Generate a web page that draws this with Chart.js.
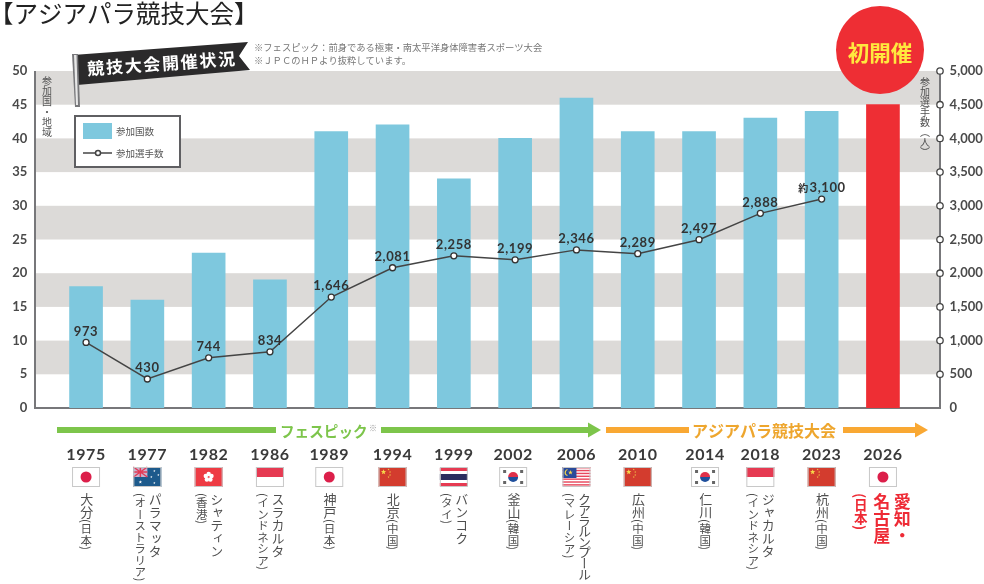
<!DOCTYPE html>
<html lang="ja">
<head>
<meta charset="utf-8">
<title>アジアパラ競技大会</title>
<script src="https://cdn.jsdelivr.net/npm/chart.js@4"></script>
<style>
  html, body { margin: 0; padding: 0; background: #fff; overflow: hidden; }
  #wrap { position: relative; width: 984px; height: 584px; overflow: hidden; }
  canvas { position: absolute; left: 0; top: 0; }
  .place {
    position: absolute;
    top: 493px;
    transform: translateX(-50%);
    writing-mode: vertical-rl;
    font-family: "Noto Sans CJK JP", sans-serif;
    font-size: 13px;
    line-height: 14.5px;
    color: #4f4f4f;
    white-space: nowrap;
  }
  .place small { font-size: 11.5px; letter-spacing: 0; }
  .place.host { color: #ee2a35; font-weight: 700; font-size: 17px; line-height: 20.5px; margin-left: -2px; }
  .place.host small { font-size: 13.5px; }
</style>
</head>
<body>
<div id="wrap"><canvas id="chart" width="984" height="584"></canvas></div>
<script>
// Values
const years = ['1975', '1977', '1982', '1986', '1989', '1994', '1999', '2002', '2006', '2010', '2014', '2018', '2023', '2026'];
const nations = [18, 16, 23, 19, 41, 42, 34, 40, 46, 41, 41, 43, 44, 45];
const athletes = [973, 430, 744, 834, 1646, 2081, 2258, 2199, 2346, 2289, 2497, 2888, 3100, null];
const cities = ['大分', 'パラマッタ', 'シャティン', 'スラカルタ', '神戸', '北京', 'バンコク', '釜山', 'クアラルンプール', '広州', '仁川', 'ジャカルタ', '杭州', '愛知・|名古屋'];
const countries = ['日本', 'オーストラリア', '香港', 'インドネシア', '日本', '中国', 'タイ', '韓国', 'マレーシア', '中国', '韓国', 'インドネシア', '中国', '日本'];
const flags = ['jp', 'au', 'hk', 'id', 'jp', 'cn', 'th', 'kr', 'my', 'cn', 'kr', 'id', 'cn', 'jp'];

const seriesNames = ['参加国数', '参加選手数'];
const leftTitle = '参加国・地域';
const rightTitle = '参加選手数（人）';
const notes = ['※フェスピック：前身である極東・南太平洋身体障害者スポーツ大会', '※ＪＰＣのＨＰより抜粋しています。'];

// the year / flag / place columns do not sit exactly under the bars
const columnNudge = { 4: -2, 7: -2, 10: 6 };

const BLUE = '#7ec8de';
const RED = '#ee2e34';
const BAND = '#dcdad8';
const AXIS = '#77777a';
const LATIN = 'Lato, sans-serif';
const CJK = '"Noto Sans CJK JP", sans-serif';

function columnX(chart, i) {
  return chart.scales.x.getPixelForValue(i) + (columnNudge[i] || 0);
}

function polygon(ctx, points) {
  ctx.beginPath();
  points.forEach(([x, y], i) => (i ? ctx.lineTo(x, y) : ctx.moveTo(x, y)));
  ctx.closePath();
  ctx.fill();
}

function star(ctx, x, y, r, color) {
  ctx.fillStyle = color;
  const pts = [];
  for (let i = 0; i < 10; i++) {
    const a = -Math.PI / 2 + (i * Math.PI) / 5;
    const q = i % 2 ? r * 0.42 : r;
    pts.push([x + Math.cos(a) * q, y + Math.sin(a) * q]);
  }
  polygon(ctx, pts);
}

// Small flag pictures, 28x20 around the given centre
function drawFlag(ctx, code, cx, cy) {
  const x = cx - 14;
  const y = cy - 10;
  const w = 28;
  const h = 20;
  ctx.save();
  ctx.fillStyle = '#fff';
  ctx.fillRect(x, y, w, h);
  if (code === 'jp') {
    ctx.fillStyle = '#dc1f4a';
    ctx.beginPath();
    ctx.arc(cx, cy, 5.5, 0, Math.PI * 2);
    ctx.fill();
  } else if (code === 'au') {
    ctx.fillStyle = '#1d5a8c';
    ctx.fillRect(x, y, w, h);
    ctx.fillStyle = '#c9b3cf';
    ctx.fillRect(x, y, 14, 10);
    ctx.strokeStyle = '#e23b57';
    ctx.lineWidth = 1.5;
    ctx.beginPath();
    ctx.moveTo(x, y);
    ctx.lineTo(x + 14, y + 10);
    ctx.moveTo(x + 14, y);
    ctx.lineTo(x, y + 10);
    ctx.moveTo(x + 7, y);
    ctx.lineTo(x + 7, y + 10);
    ctx.moveTo(x, y + 5);
    ctx.lineTo(x + 14, y + 5);
    ctx.stroke();
    star(ctx, x + 7, y + 15, 1.8, '#fff');
    star(ctx, x + 21, y + 4, 1.2, '#fff');
    star(ctx, x + 25, y + 8, 1.2, '#fff');
    star(ctx, x + 18, y + 10, 1.2, '#fff');
    star(ctx, x + 21, y + 16, 1.2, '#fff');
  } else if (code === 'hk') {
    ctx.fillStyle = '#ee3b44';
    ctx.fillRect(x, y, w, h);
    ctx.fillStyle = '#fff';
    for (let i = 0; i < 5; i++) {
      const a = -Math.PI / 2 + (i * 2 * Math.PI) / 5;
      ctx.beginPath();
      ctx.arc(cx + Math.cos(a) * 3, cy + Math.sin(a) * 3, 2.2, 0, Math.PI * 2);
      ctx.fill();
    }
  } else if (code === 'id') {
    ctx.fillStyle = '#e63a52';
    ctx.fillRect(x, y, w, h / 2);
  } else if (code === 'cn') {
    ctx.fillStyle = '#d33c2e';
    ctx.fillRect(x, y, w, h);
    star(ctx, x + 5, y + 5, 2.8, '#f6d84a');
    star(ctx, x + 10, y + 2.5, 1, '#f6d84a');
    star(ctx, x + 11.5, y + 5, 1, '#f6d84a');
    star(ctx, x + 11.5, y + 8, 1, '#f6d84a');
    star(ctx, x + 10, y + 10, 1, '#f6d84a');
  } else if (code === 'th') {
    ctx.fillStyle = '#e63a52';
    ctx.fillRect(x, y + 1, w, 3);
    ctx.fillRect(x, y + 16, w, 3);
    ctx.fillStyle = '#2b2d5e';
    ctx.fillRect(x, y + 7, w, 6);
  } else if (code === 'kr') {
    ctx.fillStyle = '#e0304a';
    ctx.beginPath();
    ctx.arc(cx, cy, 5, Math.PI, 0);
    ctx.fill();
    ctx.fillStyle = '#1f4f9c';
    ctx.beginPath();
    ctx.arc(cx, cy, 5, 0, Math.PI);
    ctx.fill();
    ctx.fillStyle = '#666';
    [[-10, -7], [7, -7], [-10, 4], [7, 4]].forEach(([dx, dy]) => ctx.fillRect(cx + dx, cy + dy, 3, 3));
  } else if (code === 'my') {
    ctx.fillStyle = '#e8485c';
    for (let i = 0; i < 7; i++) ctx.fillRect(x, y + i * 2.86, w, 1.43);
    ctx.fillStyle = '#2a4a9a';
    ctx.fillRect(x, y, 14, 11);
    star(ctx, x + 8, y + 5.5, 2.5, '#f6d84a');
    ctx.strokeStyle = '#f6d84a';
    ctx.lineWidth = 1.2;
    ctx.beginPath();
    ctx.arc(x + 6, y + 5.5, 3.2, Math.PI * 0.6, Math.PI * 1.4);
    ctx.stroke();
  }
  ctx.strokeStyle = '#c8c8c8';
  ctx.lineWidth = 1;
  ctx.strokeRect(x + 0.5, y + 0.5, w - 1, h - 1);
  ctx.restore();
}

function arrowLine(ctx, x1, x2, y, color) {
  ctx.fillStyle = color;
  ctx.fillRect(x1, y - 3, x2 - x1, 6);
}

function arrowHead(ctx, tip, y, color) {
  ctx.fillStyle = color;
  polygon(ctx, [[tip - 13, y - 7.5], [tip, y], [tip - 13, y + 7.5]]);
}

// Alternating bands and the frame live outside the bar area, so they are drawn by hand
const backdrop = {
  id: 'backdrop',
  beforeDatasetsDraw(chart) {
    const { ctx, scales: { y } } = chart;
    const left = 35;
    const right = 940;
    ctx.save();
    ctx.fillStyle = BAND;
    for (let v = 5; v < 50; v += 10) {
      const top = y.getPixelForValue(v + 5);
      ctx.fillRect(left, top, right - left, y.getPixelForValue(v) - top);
    }
    ctx.strokeStyle = AXIS;
    ctx.lineWidth = 2;
    ctx.beginPath();
    ctx.moveTo(left, y.top);
    ctx.lineTo(left, y.bottom);
    ctx.lineTo(right, y.bottom);
    ctx.lineTo(right, y.top);
    ctx.stroke();
    ctx.restore();
  },
  afterDatasetsDraw(chart) {
    const { ctx, scales: { y1 } } = chart;
    ctx.save();
    ctx.strokeStyle = '#444';
    ctx.fillStyle = '#fff';
    ctx.lineWidth = 1.3;
    y1.ticks.forEach((t) => {
      if (!t.value) return;
      ctx.beginPath();
      ctx.arc(940, y1.getPixelForValue(t.value), 3.2, 0, Math.PI * 2);
      ctx.fill();
      ctx.stroke();
    });
    ctx.restore();
  },
};

// Numbers above the line points
const pointLabels = {
  id: 'pointLabels',
  afterDatasetsDraw(chart) {
    const { ctx } = chart;
    const meta = chart.getDatasetMeta(1);
    ctx.save();
    ctx.fillStyle = '#333';
    ctx.textBaseline = 'middle';
    ctx.textAlign = 'center';
    ctx.font = `700 13px ${LATIN}`;
    ctx.letterSpacing = '0.6px';
    athletes.forEach((v, i) => {
      if (v === null) return;
      const { x, y } = meta.data[i];
      ctx.fillText(v.toLocaleString('en-US'), i === 12 ? x + 6 : x, y - 11);
      if (i === 12) {
        ctx.font = `700 10px ${CJK}`;
        ctx.fillText('約', x - 18, y - 11);
      }
    });
    ctx.restore();
  },
};

function verticalText(ctx, text, x, top, step) {
  [...text].forEach((ch, i) => ctx.fillText(ch, x, top + i * step));
}

// Title, banner, legend box, axis titles, circle, era arrows, years and flags
const decorations = {
  id: 'decorations',
  afterDraw(chart) {
    const { ctx } = chart;
    ctx.save();

    ctx.fillStyle = '#222';
    ctx.textBaseline = 'alphabetic';
    ctx.font = `400 24.5px ${CJK}`;
    ctx.fillText('【アジアパラ競技大会】', -11, 23);

    // banner
    ctx.fillStyle = '#2b2a2b';
    polygon(ctx, [[73, 55], [248, 42], [239, 56], [250, 70], [77, 85]]);
    ctx.fillStyle = '#77777a';
    polygon(ctx, [[72, 54], [78, 54], [80, 107], [75, 107]]);
    ctx.fillStyle = '#e8e8e8';
    polygon(ctx, [[74, 55], [76.5, 55], [78, 105], [76, 105]]);
    ctx.save();
    ctx.translate(162, 63.5);
    ctx.rotate(-0.07);
    ctx.fillStyle = '#fff';
    ctx.font = `700 17px ${CJK}`;
    ctx.letterSpacing = '1.7px';
    ctx.textAlign = 'center';
    ctx.textBaseline = 'middle';
    ctx.fillText('競技大会開催状況', 0, 0);
    ctx.restore();

    ctx.fillStyle = '#777';
    ctx.font = `400 9.3px ${CJK}`;
    ctx.textBaseline = 'middle';
    notes.forEach((n, i) => ctx.fillText(n, 254, 47 + i * 13));

    // legend
    ctx.fillStyle = '#fff';
    ctx.strokeStyle = '#5f5f62';
    ctx.lineWidth = 2;
    ctx.fillRect(75, 116, 105, 51);
    ctx.strokeRect(75, 116, 105, 51);
    ctx.fillStyle = BLUE;
    ctx.fillRect(83, 123, 29, 16);
    ctx.strokeStyle = '#444';
    ctx.lineWidth = 1.5;
    ctx.beginPath();
    ctx.moveTo(83, 153);
    ctx.lineTo(112, 153);
    ctx.stroke();
    ctx.fillStyle = '#fff';
    ctx.beginPath();
    ctx.arc(98, 153, 2.5, 0, Math.PI * 2);
    ctx.fill();
    ctx.stroke();
    ctx.fillStyle = '#555';
    ctx.font = `400 9.5px ${CJK}`;
    ctx.fillText(seriesNames[0], 116, 131);
    ctx.fillText(seriesNames[1], 116, 153);

    // axis titles
    ctx.textAlign = 'center';
    ctx.font = `400 10px ${CJK}`;
    verticalText(ctx, leftTitle, 47, 81, 10.3);

    ctx.restore();

    // first-edition circle
    ctx.save();
    ctx.fillStyle = RED;
    ctx.beginPath();
    ctx.arc(880, 50, 44, 0, Math.PI * 2);
    ctx.fill();
    ctx.fillStyle = '#ffe83e';
    ctx.font = `700 21.5px ${CJK}`;
    ctx.textAlign = 'center';
    ctx.textBaseline = 'middle';
    ctx.fillText('初開催', 880, 53);
    ctx.restore();

    // era arrows
    const arrowY = 430;
    ctx.save();
    arrowLine(ctx, 57, 276, arrowY, '#7dc54b');
    arrowLine(ctx, 381, 590, arrowY, '#7dc54b');
    arrowHead(ctx, 601, arrowY, '#7dc54b');
    arrowLine(ctx, 606, 689, arrowY, '#f9a833');
    arrowLine(ctx, 843, 916, arrowY, '#f9a833');
    arrowHead(ctx, 928, arrowY, '#f9a833');
    ctx.textBaseline = 'middle';
    ctx.font = `700 14.6px ${CJK}`;
    ctx.fillStyle = '#7dc54b';
    ctx.fillText('フェスピック', 280, arrowY + 1);
    ctx.fillStyle = '#999';
    ctx.font = `400 8px ${CJK}`;
    ctx.fillText('※', 369, arrowY - 2);
    ctx.font = `700 16px ${CJK}`;
    ctx.fillStyle = '#eea62e';
    ctx.fillText('アジアパラ競技大会', 692, arrowY + 1);
    ctx.restore();

    // years and flags below the axis
    ctx.save();
    ctx.fillStyle = '#3a3a3a';
    ctx.font = `700 16px ${LATIN}`;
    ctx.letterSpacing = '0.6px';
    ctx.textAlign = 'center';
    ctx.textBaseline = 'middle';
    years.forEach((year, i) => {
      const cx = columnX(chart, i);
      ctx.fillText(year, cx, 455);
      drawFlag(ctx, flags[i], cx, 477);
    });
    ctx.restore();
  },
};

const chart = new Chart(document.getElementById('chart'), {
  type: 'bar',
  data: {
    labels: years,
    datasets: [
      {
        type: 'bar',
        label: seriesNames[0],
        data: nations,
        yAxisID: 'y',
        order: 2,
        barThickness: 33,
        backgroundColor: years.map((_, i) => (i === years.length - 1 ? RED : BLUE)),
      },
      {
        type: 'line',
        label: seriesNames[1],
        data: athletes,
        yAxisID: 'y1',
        order: 1,
        borderColor: '#444',
        borderWidth: 1.5,
        tension: 0,
        pointRadius: 3,
        pointBackgroundColor: '#fff',
        pointBorderColor: '#333',
        pointBorderWidth: 1.3,
      },
    ],
  },
  options: {
    responsive: false,
    animation: false,
    layout: { padding: { top: 71, bottom: 176 } },
    plugins: { legend: { display: false }, title: { display: false }, tooltip: { enabled: false } },
    scales: {
      x: { display: false },
      y: {
        position: 'left',
        min: 0,
        max: 50,
        afterFit: (s) => { s.width = 55.4; },
        grid: { display: false, drawTicks: false },
        border: { display: false },
        ticks: { stepSize: 5, padding: 28, color: '#4a4a4a', font: { family: LATIN, size: 13, weight: '700' } },
      },
      y1: {
        position: 'right',
        min: 0,
        max: 5000,
        afterFit: (s) => { s.width = 70.4; },
        grid: { display: false, drawTicks: false },
        border: { display: false },
        ticks: {
          stepSize: 500,
          padding: 36,
          color: '#4a4a4a',
          font: { family: LATIN, size: 13, weight: '700' },
          callback: (v) => v.toLocaleString('en-US'),
        },
      },
    },
  },
  plugins: [backdrop, pointLabels, decorations],
});

// Vertical place names are plain DOM text, the browser does the tategaki for us
function addVerticalLabels() {
  const wrap = document.getElementById('wrap');
  cities.forEach((city, i) => {
    const el = document.createElement('div');
    el.className = 'place' + (i === cities.length - 1 ? ' host' : '');
    el.style.left = columnX(chart, i) + 'px';
    // the longest name is squeezed to fit above the picture edge
    if (city.length >= 8) el.style.letterSpacing = '-2.4px';
    const lines = city.split('|');
    // short names run on in one column, long ones put the country alongside
    const sep = city.length <= 2 ? '' : '<br>';
    el.innerHTML = lines.join('<br>') + sep + `<small>(${countries[i]})</small>`;
    wrap.appendChild(el);
  });

  const right = document.createElement('div');
  right.className = 'place';
  right.style.cssText = 'left:925px;top:77px;font-size:10px;line-height:11px;';
  right.textContent = rightTitle;
  wrap.appendChild(right);
}

addVerticalLabels();
</script>
</body>
</html>
